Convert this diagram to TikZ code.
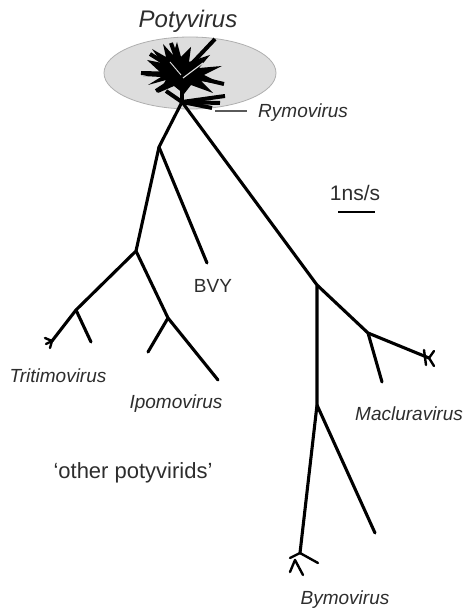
\documentclass[tikz,border=0pt]{standalone}
\usepackage{fontspec}
\setmainfont{Liberation Sans}
\usepackage{tikz}
\usetikzlibrary{positioning}
\usepackage{xcolor}
\definecolor{labelgrey}{RGB}{45,45,45}
\definecolor{cloudfill}{RGB}{221,221,221}
\definecolor{cloudedge}{RGB}{175,175,175}
\definecolor{tickgrey}{RGB}{90,90,90}

\begin{document}
\begin{tikzpicture}[x=1pt, y=-1pt,
  branch/.style={line width=3.1pt, line cap=round, line join=round},
  twig/.style={line width=2.4pt, line cap=round},
  blob/.style={line width=4pt, line cap=butt},
  taxon/.style={text=labelgrey, inner sep=0pt, font=\fontsize{19}{21}\selectfont\itshape},
  plain/.style={text=labelgrey, inner sep=0pt, font=\fontsize{19}{21}\selectfont}]
  \useasboundingbox (0,0) rectangle (464,609);

  % Potyvirus cloud
  \filldraw[fill=cloudfill, draw=cloudedge, line width=0.8pt] (190,73) ellipse [x radius=86pt, y radius=36pt];

  % tree nodes
  \coordinate (root) at (182,102);
  \coordinate (hub)  at (182,74);
  \coordinate (a) at (159,147);
  \coordinate (b) at (136,251);
  \coordinate (bvy) at (207,263);
  \coordinate (c) at (76,310);
  \coordinate (tri) at (52,341);
  \coordinate (c1) at (91,342);
  \coordinate (d) at (168,318);
  \coordinate (d1) at (148,352);
  \coordinate (ipo) at (218,380);
  \coordinate (e) at (317,285);
  \coordinate (f) at (368,333);
  \coordinate (mac) at (429,358);
  \coordinate (f1) at (382,382);
  \coordinate (g) at (317,405);
  \coordinate (bym) at (300,553);
  \coordinate (g1) at (375,533);

  % Potyvirus burst
  \fill[black] (143,76) -- (160,72) -- (147,60) -- (162,63) -- (152,49) -- (166,57) -- (163,44)
    -- (173,55) -- (177,42) -- (181,57) -- (191,47) -- (189,62) -- (210,55) -- (199,68)
    -- (222,66) -- (204,75) -- (224,85) -- (201,81) -- (213,93) -- (191,85) -- (184,94)
    -- (174,86) -- (158,93) -- (166,80) -- (148,85) -- (161,77) -- cycle;
  \draw[blob] (root) -- (hub);
  \foreach \ex/\ey in {215/39, 141/73, 150/54, 171/43, 224/84, 156/91}
    \draw[blob] (hub) -- (\ex,\ey);
  \foreach \ex/\ey in {225/96, 220/103, 212/108, 166/91}
    \draw[blob] (root) -- (\ex,\ey);
  \draw[cloudfill, line width=1.1pt] (183,78) -- (203,63);
  \draw[cloudfill, line width=0.9pt] (181,75) -- (170,62);

  % left clade
  \draw[branch] (root) -- (a) -- (b) -- (c) -- (tri);
  \draw[branch] (a) -- (bvy);
  \draw[branch] (c) -- (c1);
  \draw[branch] (b) -- (d) -- (ipo);
  \draw[branch] (d) -- (d1);
  \foreach \ex/\ey in {45/338, 46/344, 50/348}
    \draw[twig] (tri) -- (\ex,\ey);

  % right clade
  \draw[branch] (root) -- (e) -- (g) -- (bym);
  \draw[branch] (e) -- (f) -- (mac);
  \draw[branch] (f) -- (f1);
  \draw[branch] (g) -- (g1);
  \draw[twig] (424,350) -- (426,365);
  \draw[twig] (mac) -- (434,351);
  \draw[twig] (mac) -- (434,366);
  \draw[twig] (bym) -- (318,563);
  \draw[twig] (bym) -- (290,558);
  \draw[twig] (295,560) -- (290,572);
  \draw[twig] (295,560) -- (303,575);

  % Labels
  \node[taxon, anchor=base, font=\fontsize{24}{26}\selectfont\itshape] (poty) at (188,28) {Potyvirus};
  \node[taxon, anchor=base west] (rymo) at (258,118) {Rymovirus};
  \coordinate (rymotick) at (215,111);
  \draw[tickgrey, line width=1.6pt] (rymotick) -- ([xshift=-11pt]rymo.west |- rymotick);
  \node[plain, anchor=base] (bvylab) at (213,292) {BVY};
  \node[taxon, anchor=base] (trilab) at (58,382) {Tritimovirus};
  \node[taxon, anchor=base] (ipolab) at (176,408) {Ipomovirus};
  \node[taxon, anchor=base west] (maclab) at (355,420) {Macluravirus};
  \node[taxon, anchor=base] (bymlab) at (345,604) {Bymovirus};
  \node[plain, anchor=base, font=\fontsize{22}{24}\selectfont] (others) at (133,478) {‘other potyvirids’};

  % scale bar
  \node[plain, anchor=base, font=\fontsize{21}{23}\selectfont] (scale) at (355,201) {1ns/s};
  \coordinate (barL) at (338,212);
  \coordinate (barR) at (375,212);
  \draw[line width=2.8pt] (barL) -- (barR);
\end{tikzpicture}
\end{document}
